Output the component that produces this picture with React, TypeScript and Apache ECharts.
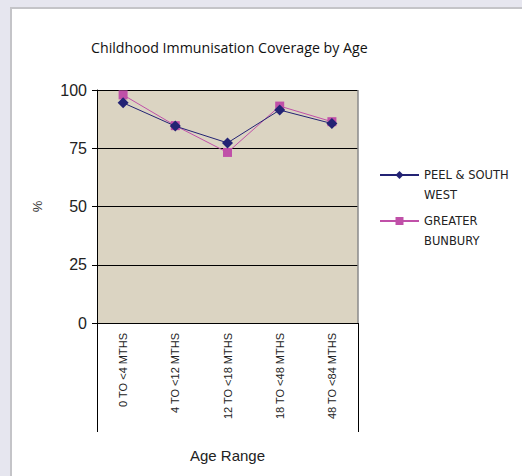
import React, { useEffect, useRef } from "react";
import * as echarts from "echarts";

const title = "Childhood Immunisation Coverage by Age";
const categories = ["0 TO <4 MTHS", "4 TO <12 MTHS", "12 TO <18 MTHS", "18 TO <48 MTHS", "48 TO <84 MTHS"];
const peelSouthWest = [94.5, 84.5, 77.3, 91.4, 85.6];
const greaterBunbury = [97.9, 84.7, 73.2, 93.1, 86.4];
const seriesNames = ["PEEL & SOUTH WEST", "GREATER BUNBURY"];
const legendLabels = ["PEEL & SOUTH\nWEST", "GREATER\nBUNBURY"];
const yTicks = [0, 25, 50, 75, 100];

export default function App() {
  const ref = useRef<HTMLDivElement>(null);
  useEffect(() => {
    document.body.style.margin = "0";
    const chart = echarts.init(ref.current!, null, { renderer: "svg" });
    const gridLeft = 97, gridTop = 90, gridW = 261, gridH = 233;
    chart.setOption({
      animation: false,
      backgroundColor: "#e6e6ef",
      graphic: [
        {
          type: "rect",
          shape: { x: 11, y: 8, width: 520, height: 480 },
          style: { fill: "#ffffff", stroke: "#c4c4c8", lineWidth: 2 },
          z: -10,
        },
        {
          type: "text",
          left: 91,
          top: 40,
          style: { text: title, font: "500 14.2px 'Open Sans', sans-serif", fill: "#111" },
        },
        {
          type: "line",
          shape: { x1: gridLeft + gridW, y1: gridTop, x2: gridLeft + gridW, y2: gridTop + gridH },
          style: { stroke: "#8a8a8a", lineWidth: 1.5 },
          z: 5,
        },
      ],
      grid: { left: gridLeft, top: gridTop, width: gridW, height: gridH, backgroundColor: "#dbd4c2", show: true, borderWidth: 0 },
      legend: {
        orient: "vertical",
        left: 379,
        top: 145,
        padding: 0,
        itemWidth: 39,
        itemHeight: 10,
        itemGap: -14,
        data: seriesNames,
        formatter: (n: string) => "\n" + legendLabels[seriesNames.indexOf(n)],
        textStyle: {
          fontFamily: "'DejaVu Sans', sans-serif",
          fontSize: 11.5,
          color: "#222",
          lineHeight: 20,
        },
      },
      xAxis: [
        {
          type: "category",
          data: categories,
          boundaryGap: true,
          axisLine: { lineStyle: { color: "#000", width: 1 } },
          axisTick: { length: 75, lineStyle: { color: "#000" } },
          axisLabel: {
            rotate: 90,
            margin: 10,
            fontFamily: "'Liberation Sans', Arial, sans-serif",
            fontSize: 11,
            color: "#222",
          },
          name: "Age Range",
          nameLocation: "middle",
          nameGap: 125,
          nameTextStyle: { fontFamily: "'Liberation Sans', Arial, sans-serif", fontSize: 15, color: "#222" },
        },
        {
          type: "value",
          position: "bottom",
          min: 0,
          max: 5,
          interval: 5,
          axisLine: { show: false },
          axisTick: { show: true, length: 109, lineStyle: { color: "#000" } },
          axisLabel: { show: false },
          splitLine: { show: false },
        },
      ],
      yAxis: {
        type: "value",
        min: 0,
        max: 100,
        interval: 25,
        axisLine: { show: true, lineStyle: { color: "#000" } },
        axisTick: { show: true, length: 5, lineStyle: { color: "#000" } },
        axisLabel: {
          margin: 10,
          fontFamily: "'Liberation Sans', Arial, sans-serif",
          fontSize: 16,
          color: "#222",
          formatter: (v: number) => (yTicks.includes(v) ? String(v) : ""),
        },
        splitLine: { show: true, lineStyle: { color: "#000", width: 1 } },
        name: "%",
        nameLocation: "middle",
        nameGap: 53,
        nameRotate: 90,
        nameTextStyle: { fontFamily: "'Liberation Sans', Arial, sans-serif", fontSize: 13, color: "#333" },
      },
      series: [
        {
          name: seriesNames[0],
          type: "line",
          data: peelSouthWest,
          symbol: "diamond",
          symbolSize: 11,
          lineStyle: { color: "#232374", width: 1 },
          itemStyle: { color: "#232374" },
          z: 3,
        },
        {
          name: seriesNames[1],
          type: "line",
          data: greaterBunbury,
          symbol: "rect",
          symbolSize: 9,
          lineStyle: { color: "#c050a8", width: 1 },
          itemStyle: { color: "#c050a8" },
          z: 2,
        },
      ],
    });
    return () => chart.dispose();
  }, []);
  return <div ref={ref} style={{ width: 522, height: 476 }} />;
}
